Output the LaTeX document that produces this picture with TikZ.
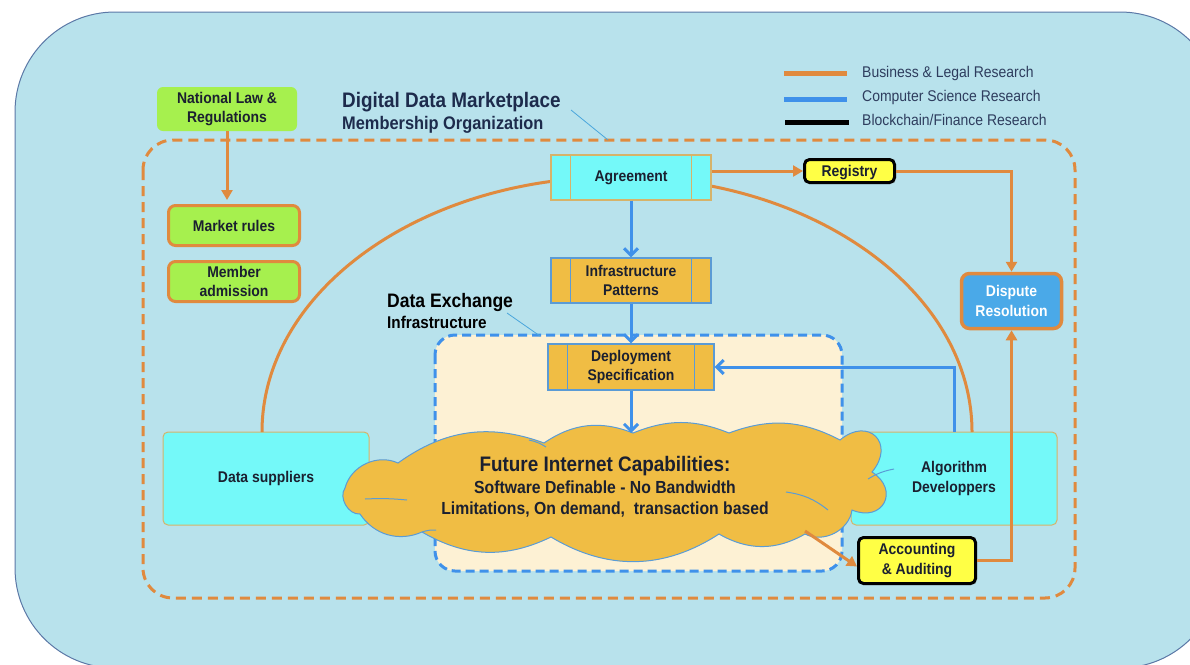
\documentclass[tikz,border=0pt]{standalone}
\usepackage{fontspec}
\setmainfont{Liberation Sans}[FakeStretch=0.9]
\usetikzlibrary{arrows.meta,shadows,calc}

\definecolor{bgfill}{HTML}{B8E2EC}
\definecolor{bgedge}{HTML}{5B78A6}
\definecolor{orgline}{HTML}{E08A3E}
\definecolor{blueline}{HTML}{3F91EA}
\definecolor{cyanfill}{HTML}{74F9F9}
\definecolor{tanline}{HTML}{D6B36A}
\definecolor{amber}{HTML}{F0BD44}
\definecolor{procedge}{HTML}{5B9BD5}
\definecolor{lawgreen}{HTML}{A6F04E}
\definecolor{yellowfill}{HTML}{FFFF45}
\definecolor{disputeblue}{HTML}{4AA9E8}
\definecolor{cream}{HTML}{FDF1D4}
\definecolor{ink}{HTML}{1B2030}
\definecolor{navy}{HTML}{1D2B4C}
\definecolor{legendink}{HTML}{2E3D5E}
\definecolor{callout}{HTML}{4AA6DC}
\definecolor{cloudedge}{HTML}{5A9CD6}

\newcommand\bxfont{\fontsize{15.5}{19.5}\selectfont\bfseries}
% vertical bars of a "predefined process" box
\newcommand\procbars[3]{%
  \draw[#2, line width=1.2pt] ([xshift=#3]#1.north west) -- ([xshift=#3]#1.south west)
    ([xshift=-#3]#1.north east) -- ([xshift=-#3]#1.south east);}

\begin{document}
\begin{tikzpicture}[x=1pt,y=-1pt,
  box/.style={align=center, inner sep=0pt, text=ink, font=\bxfont},
  greenbox/.style={box, fill=lawgreen, rounded corners=6pt, minimum width=140pt, minimum height=44pt},
  rulebox/.style={box, fill=lawgreen, draw=orgline, line width=3pt, rounded corners=7pt,
    minimum width=131pt, minimum height=40pt},
  procbox/.style={box, rectangle, line width=1.2pt, minimum width=160pt, minimum height=45pt},
  cyanproc/.style={procbox, fill=cyanfill, draw=tanline},
  amberproc/.style={procbox, fill=amber, draw=procedge},
  actor/.style={box, fill=cyanfill, draw=tanline, line width=1pt, rounded corners=5pt,
    minimum width=206pt, minimum height=93pt},
  ledger/.style={box, fill=yellowfill, draw=black, line width=3pt, rounded corners=5pt,
    drop shadow={shadow xshift=1.5pt, shadow yshift=-1.5pt, opacity=0.35}},
  disputebox/.style={box, fill=disputeblue, draw=orgline, line width=3.5pt, rounded corners=8pt,
    minimum width=100pt, minimum height=55pt, text=white},
  oarrow/.style={draw=orgline, line width=3pt, -{Triangle[length=10pt,width=11pt]}},
  barrow/.style={draw=blueline, line width=3pt, -{Straight Barb[length=7pt,width=14pt]}},
  title/.style={anchor=base west, inner sep=0pt, text=navy},
  legend/.style={anchor=base west, inner sep=0pt, text=legendink, font=\fontsize{15.5}{18}\selectfont},
]
\useasboundingbox (0,0) rectangle (1190,664);

% background panel
\draw[fill=bgfill, draw=bgedge, line width=1pt, rounded corners=100pt] (15,12) rectangle (1220,668);

% legend
\draw[orgline, line width=5pt] (784,73) -- (847,73);
\draw[blueline, line width=5pt] (784,99) -- (847,99);
\draw[black, line width=5pt] (785,122) -- (849,122);
\node[legend] (lgA) at (862,77) {Business \& Legal Research};
\node[legend] (lgB) at (862,101) {Computer Science Research};
\node[legend] (lgC) at (862,125) {Blockchain/Finance Research};

% membership organization frame
\draw[orgline, line width=3pt, dash pattern=on 10pt off 6pt, rounded corners=30pt]
  (143,140) rectangle (1075,598);
\node[title, font=\fontsize{21}{24}\selectfont\bfseries] (ddm) at (342,107) {Digital Data Marketplace};
\node[title, font=\fontsize{18.2}{20}\selectfont\bfseries] (mo) at (342,129) {Membership Organization};
\coordinate (calloutA) at (571,110);
\coordinate (calloutB) at (608,140);
\draw[callout, line width=0.8pt] (calloutA) -- (calloutB);

% actors
\node[actor] (datasup) at (266,478.5) {Data suppliers};
\node[actor] (algdev) at (954,478.5) {Algorithm\\Developpers};

% arch joining the two actors through the agreement
\coordinate (archL) at (262,432);
\coordinate (archTop) at (617,177);
\coordinate (archR) at (972,432);
\draw[orgline, line width=3pt] (archL) .. controls (262,291) and (421,177) .. (archTop)
  .. controls (813,177) and (972,291) .. (archR);

% data exchange infrastructure frame
\draw[fill=cream, draw=blueline, line width=3pt, dash pattern=on 9pt off 5pt, rounded corners=20pt]
  (435,335) rectangle (842,571);
\node[title, text=black, font=\fontsize{19.5}{22}\selectfont\bfseries] (dex) at (387,307) {Data Exchange};
\node[title, text=black, font=\fontsize{17}{20}\selectfont\bfseries] (dexi) at (387,328) {Infrastructure};
\coordinate (calloutC) at (507,313);
\coordinate (calloutD) at (540,336);
\draw[callout, line width=0.8pt] (calloutC) -- (calloutD);

% process chain
\node[cyanproc] (agree) at (631,177.5) {Agreement};
\procbars{agree}{tanline}{20pt}
\node[amberproc] (infra) at (631,280.5) {Infrastructure\\Patterns};
\procbars{infra}{procedge}{20pt}
\node[amberproc, minimum width=166pt, minimum height=46pt] (deploy) at (631,367) {Deployment\\Specification};
\procbars{deploy}{procedge}{20pt}

% feedback from algorithm developers
\draw[barrow] (algdev.north) |- (deploy.east);

% future internet cloud
\coordinate (cloudtop) at (633,433);
\coordinate (cloudse) at (805,531);
\path[fill=amber, draw=cloudedge, line width=1pt]
  (345,488) to[bend left=50] (398,463)
  to[bend left=28] (544,443)
  to[bend left=28] (633,433)
  to[bend left=22] (729,433)
  to[bend left=24] (840,440)
  to[bend left=85, looseness=2.1] (872,472)
  to[bend left=85, looseness=2.0] (852,510)
  to[bend left=55] (805,534)
  to[bend left=30] (719,534)
  to[bend left=32] (551,537)
  to[bend left=28] (422,532)
  to[bend left=40] (360,514)
  to[bend left=65] (345,488) -- cycle;
\draw[cloudedge, line width=1pt] (365,499) to[bend left=4] (407,500);
\draw[cloudedge, line width=1pt] (868,479) to[bend left=10] (894,469);
\draw[cloudedge, line width=1pt] (786,492) to[bend left=15] (828,510);
\draw[cloudedge, line width=1pt] (529,440) to[bend left=10] (546,447);
\draw[cloudedge, line width=1pt] (422,532) to[bend left=10] (436,530);
\node[box, font=\fontsize{17.5}{21}\selectfont\bfseries] (cloud) at (605,487)
  {{\fontsize{21}{21}\selectfont Future Internet Capabilities:}\\[1pt]
   Software Definable - No Bandwidth\\
   Limitations, On demand,~ transaction based};

% governance boxes
\node[greenbox] (natlaw) at (227,109) {National Law \&\\Regulations};
\node[rulebox] (market) at (234,225.5) {Market rules};
\node[rulebox] (member) at (234,281.5) {Member\\admission};
\node[ledger, minimum width=90pt, minimum height=23pt, text depth=0pt] (registry) at (849.5,171) {Registry};
\node[ledger, minimum width=117pt, minimum height=46pt] (acct) at (917,560.5) {Accounting\\\& Auditing};
\node[disputebox] (dispute) at (1011.5,301) {Dispute\\Resolution};

% connectors
\draw[oarrow, shorten >=4pt] (natlaw.south) -- (natlaw.south |- market.north);
\draw[oarrow] (registry.west -| agree.east) -- (registry.west);
\draw[oarrow] (registry.east) -| (dispute.north);
\draw[barrow] (agree.south) -- (infra.north);
\draw[barrow] (infra.south) -- (deploy.north);
\draw[barrow] (deploy.south) -- (deploy.south |- cloudtop);
\draw[oarrow] (cloudse) -- ([yshift=-6pt]acct.west);
\draw[oarrow] (acct.east) -| (dispute.south);
\end{tikzpicture}
\end{document}
